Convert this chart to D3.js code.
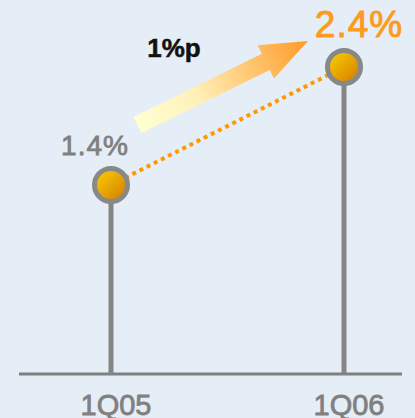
<!DOCTYPE html>
<html>
<head>
<meta charset="utf-8">
<script src="https://cdn.jsdelivr.net/npm/d3@7"></script>
<style>
  html, body { margin: 0; padding: 0; background: #e5eef6; }
  svg { display: block; }
</style>
</head>
<body>
<div id="chartArea"></div>
<script>
// data
const quarters = ["1Q05", "1Q06"];
const rates = [1.4, 2.4];
const rateLabels = ["1.4%", "2.4%"];
const changeLabel = "1%p";

const W = 415, H = 418;

const svg = d3.select("#chartArea").append("svg")
  .attr("width", W)
  .attr("height", H);

svg.append("rect").attr("width", W).attr("height", H).attr("fill", "#e5eef6");

const defs = svg.append("defs");

// ball fill
const ball = defs.append("linearGradient").attr("id", "ball")
  .attr("x1", "15%").attr("y1", "15%").attr("x2", "85%").attr("y2", "85%");
ball.append("stop").attr("offset", "0%").attr("stop-color", "#f7c600");
ball.append("stop").attr("offset", "100%").attr("stop-color", "#d88400");

// arrow fill
const arrowGrad = defs.append("linearGradient").attr("id", "arrowGrad")
  .attr("gradientUnits", "userSpaceOnUse")
  .attr("x1", 0).attr("y1", 0).attr("x2", 190).attr("y2", 0);
arrowGrad.append("stop").attr("offset", "0%").attr("stop-color", "#ffffd2");
arrowGrad.append("stop").attr("offset", "35%").attr("stop-color", "#fff0b8");
arrowGrad.append("stop").attr("offset", "100%").attr("stop-color", "#ff9a26");

// scales
const x = d3.scalePoint().domain(quarters).range([111, 344]);
const y = d3.scaleLinear().domain([1.4, 2.4]).range([185, 67]);
const baseY = 374;

// baseline
svg.append("line")
  .attr("x1", 19).attr("x2", 402)
  .attr("y1", baseY).attr("y2", baseY)
  .attr("stroke", "#808080").attr("stroke-width", 3);

// stems
svg.selectAll(".stem")
  .data(quarters)
  .enter()
  .append("line")
  .attr("class", "stem")
  .attr("x1", d => x(d)).attr("x2", d => x(d))
  .attr("y1", (d, i) => y(rates[i]))
  .attr("y2", baseY)
  .attr("stroke", "#858585").attr("stroke-width", 5);

// dotted connector
svg.append("line")
  .attr("x1", x(quarters[0])).attr("y1", y(rates[0]))
  .attr("x2", x(quarters[1])).attr("y2", y(rates[1]))
  .attr("stroke", "#ff9900").attr("stroke-width", 4)
  .attr("stroke-dasharray", "4,4");

// balls
svg.selectAll(".ball")
  .data(rates)
  .enter()
  .append("circle")
  .attr("class", "ball")
  .attr("cx", (d, i) => x(quarters[i]))
  .attr("cy", d => y(d))
  .attr("r", 16.5)
  .attr("fill", "url(#ball)")
  .attr("stroke", "#888888")
  .attr("stroke-width", 5);

// category labels
svg.selectAll(".cat")
  .data(quarters)
  .enter()
  .append("text")
  .attr("class", "cat")
  .attr("x", d => x(d) + 5)
  .attr("y", 415)
  .attr("text-anchor", "middle")
  .attr("font-family", "Liberation Sans, Arial, sans-serif")
  .attr("font-size", 29)
  .attr("fill", "#808080")
  .attr("stroke", "#808080").attr("stroke-width", 0.8)
  .text(d => d);

// value labels
svg.append("text")
  .attr("x", x(quarters[0]) - 16)
  .attr("y", y(rates[0]) - 30)
  .attr("text-anchor", "middle")
  .attr("font-family", "Liberation Sans, Arial, sans-serif")
  .attr("font-size", 28)
  .attr("letter-spacing", 1)
  .attr("fill", "#808080")
  .attr("stroke", "#808080").attr("stroke-width", 0.8)
  .text(rateLabels[0]);

svg.append("text")
  .attr("x", x(quarters[1]) + 15)
  .attr("y", y(rates[1]) - 30)
  .attr("text-anchor", "middle")
  .attr("font-family", "Liberation Sans, Arial, sans-serif")
  .attr("font-size", 37)
  .attr("letter-spacing", 1)
  .attr("fill", "#ff9a1a")
  .attr("stroke", "#ff9a1a").attr("stroke-width", 0.9)
  .text(rateLabels[1]);

// change arrow
const arrow = svg.append("g")
  .attr("transform", "translate(137.5,125) rotate(-26.2)");
arrow.append("path")
  .attr("d", d3.line()([[0, -9], [143, -9], [143, -18.5], [190, 0], [143, 18.5], [143, 9], [0, 9]]) + "Z")
  .attr("fill", "url(#arrowGrad)");

svg.append("text")
  .attr("x", 174)
  .attr("y", 57)
  .attr("text-anchor", "middle")
  .attr("font-family", "Liberation Sans, Arial, sans-serif")
  .attr("font-weight", "bold")
  .attr("font-size", 26)
  .attr("fill", "#111")
  .attr("stroke", "#111").attr("stroke-width", 0.5)
  .text(changeLabel);
</script>
</body>
</html>
